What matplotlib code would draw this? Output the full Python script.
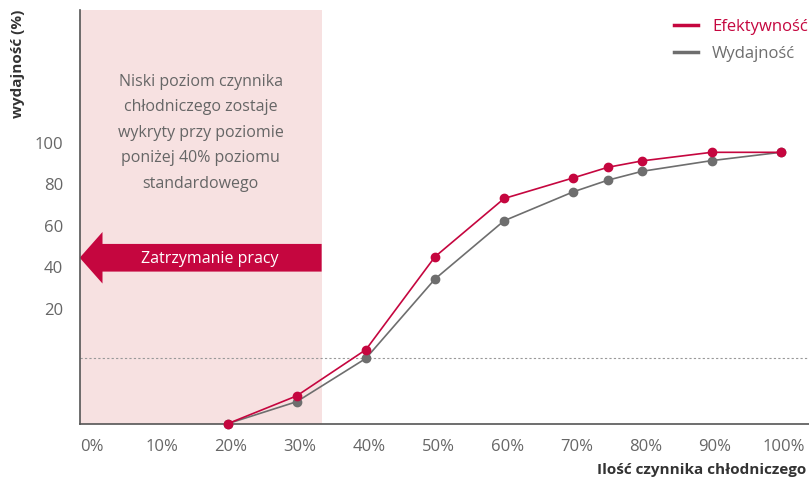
import matplotlib.pyplot as plt
import matplotlib.transforms as mtransforms
from matplotlib.patches import FancyArrow

plt.rcParams['font.family'] = ['Open Sans', 'DejaVu Sans']

# refrigerant amount (%) and performance values
x_pct = [20, 30, 40, 50, 60, 70, 75, 80, 90, 100]
efektywnosc = [-35.6, -22.2, 0.0, 44.7, 72.7, 82.6, 87.7, 90.8, 94.9, 94.9]
wydajnosc = [-35.6, -25.0, -4.2, 34.0, 62.0, 75.9, 81.5, 85.8, 90.9, 94.9]

x_ticks = [0, 10, 20, 30, 40, 50, 60, 70, 80, 90, 100]
x_labels = [f"{v}%" for v in x_ticks]
y_ticks = [20, 40, 60, 80, 100]
y_labels = [str(v) for v in y_ticks]

low_level_limit = 33.6
threshold = -4.2

RED = "#c5063f"
GREY = "#6e6e6e"
TEXT = "#666666"
PINK = "#f7e1e1"

fig = plt.figure(figsize=(8.09, 4.81), dpi=100)
ax = fig.add_axes([0.0985, 0.117, 0.9015, 0.860])
ax.set_xlim(-1.4, 104.1)
ax.set_ylim(-35.6, 163.3)

ax.axvspan(-1.4, low_level_limit, color=PINK, lw=0, zorder=0)
ax.axhline(threshold, color="#999999", lw=0.8, ls=(0, (2, 2)), zorder=1)

ax.plot(x_pct, wydajnosc, color=GREY, lw=1.2, marker="o", ms=6,
        label="Wydajność", zorder=3, clip_on=False)
ax.plot(x_pct, efektywnosc, color=RED, lw=1.2, marker="o", ms=6,
        label="Efektywność", zorder=4, clip_on=False)

# "Zatrzymanie pracy" arrow
arrow = FancyArrow(low_level_limit, 44.2, -(low_level_limit + 1.4), 0,
                   width=13.3, head_width=24.8, head_length=3.3,
                   length_includes_head=True, color=RED, lw=0, zorder=2)
ax.add_patch(arrow)
ax.text(17.4, 44.2, "Zatrzymanie pracy", color="white", fontsize=11.5,
        ha="center", va="center", zorder=5)

ax.text(16.1, 104.8, "Niski poziom czynnika\nchłodniczego zostaje\nwykryty przy poziomie\n"
        "poniżej 40% poziomu\nstandardowego", color=TEXT, fontsize=11.5,
        ha="center", va="center", linespacing=1.8, zorder=5)

for side in ["top", "right"]:
    ax.spines[side].set_visible(False)
for side in ["left", "bottom"]:
    ax.spines[side].set_color("#555555")
    ax.spines[side].set_linewidth(1.2)

ax.set_xticks(x_ticks)
ax.set_xticklabels(x_labels)
ax.set_yticks(y_ticks)
ax.set_yticklabels(y_labels)
ax.tick_params(axis="both", length=0, labelsize=12, labelcolor=TEXT)
ax.tick_params(axis="x", pad=10)
ax.tick_params(axis="y", pad=12)

shift = mtransforms.ScaledTranslation(3 / 100, 0, fig.dpi_scale_trans)
for lbl in ax.get_xticklabels():
    lbl.set_transform(lbl.get_transform() + shift)

fig.text(18 / 809, 1 - 10 / 481, "wydajność (%)", rotation=90, ha="center",
         va="top", fontsize=11, fontweight="bold", color="#333333")
fig.text(806 / 809, 1 - 470 / 481, "Ilość czynnika chłodniczego", ha="right",
         va="center", fontsize=11, fontweight="bold", color="#333333")

# legend drawn by hand to match the layout
fig.add_artist(plt.Line2D([674 / 809, 698 / 809], [1 - 26 / 481] * 2,
                          color=RED, lw=2.5))
fig.add_artist(plt.Line2D([674 / 809, 698 / 809], [1 - 53 / 481] * 2,
                          color=GREY, lw=2.5))
fig.text(712 / 809, 1 - 27 / 481, "Efektywność", color=RED, fontsize=12,
         va="center", ha="left")
fig.text(712 / 809, 1 - 54 / 481, "Wydajność", color=GREY, fontsize=12,
         va="center", ha="left")

fig.savefig("out.png", dpi=100)
